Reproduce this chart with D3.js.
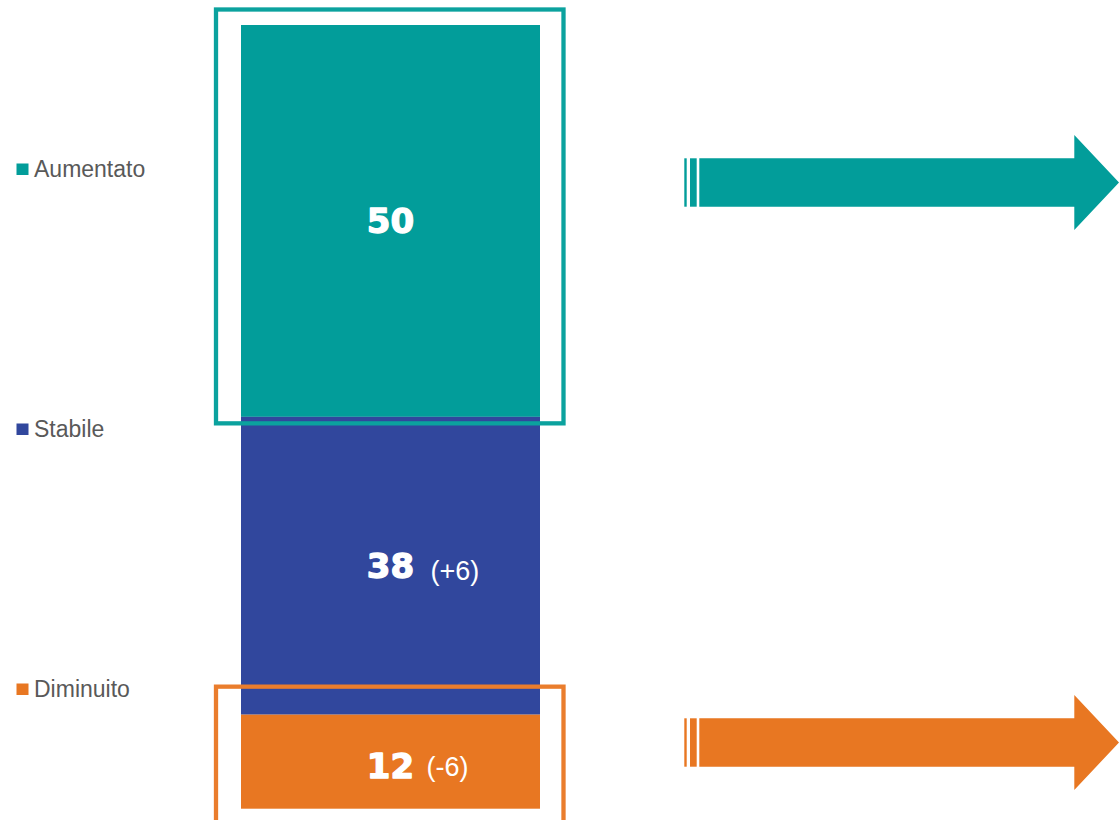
<!DOCTYPE html>
<html>
<head>
<meta charset="utf-8">
<script src="https://cdn.jsdelivr.net/npm/d3@7/dist/d3.min.js"></script>
<style>
  html, body { margin: 0; padding: 0; background: #ffffff; }
  svg { display: block; }
</style>
</head>
<body>
<svg id="chart" width="1119" height="820"></svg>
<script>
// ---- data ----
const categories = ["Aumentato", "Stabile", "Diminuito"];
const values = [50, 38, 12];
const deltas = ["", "(+6)", "(-6)"];
const colors = ["#029D9A", "#31479D", "#E87722"];
const highlighted = ["Aumentato", "Diminuito"];

// ---- layout ----
const W = 1119, H = 820;
const svg = d3.select("#chart");

const total = d3.sum(values);
const y = d3.scaleLinear().domain([0, total]).range([808.7, 25]);
const x = d3.scaleBand().domain(["bar"]).range([241, 540]).padding(0);

// stack from bottom: Diminuito at bottom, then Stabile, then Aumentato
const order = categories.map((c, i) => i).reverse();
let acc = 0;
const segs = [];
order.forEach(i => {
  segs[i] = { cat: categories[i], v: values[i], y0: acc, y1: acc + values[i], delta: deltas[i], color: colors[i] };
  acc += values[i];
});

// bars
svg.append("g").selectAll("rect")
  .data(segs)
  .join("rect")
  .attr("x", x("bar"))
  .attr("width", x.bandwidth())
  .attr("y", d => y(d.y1))
  .attr("height", d => y(d.y0) - y(d.y1))
  .attr("fill", d => d.color);

// value labels
const cx = x("bar") + x.bandwidth() / 2;
const lbl = svg.append("g");
segs.forEach(d => {
  const mid = (y(d.y0) + y(d.y1)) / 2;
  lbl.append("text")
    .attr("x", cx)
    .attr("y", d.cat === "Diminuito" ? mid + 16.5 : mid + 12.5)
    .attr("text-anchor", "middle")
    .attr("font-family", "'DejaVu Sans', sans-serif")
    .attr("font-weight", "bold")
    .attr("font-size", 34)
    .attr("fill", "#ffffff")
    .attr("stroke", "#ffffff")
    .attr("stroke-width", 1.3)
    .attr("stroke-linejoin", "round")
    .text(d.v);
  if (d.delta) {
    lbl.append("text")
      .attr("x", d.cat === "Stabile" ? 430.5 : 426.5)
      .attr("y", mid + 14.5)
      .attr("font-family", "'Liberation Sans', Arial, sans-serif")
      .attr("font-size", 27)
      .attr("fill", "#ffffff")
      .text(d.delta);
  }
});

// highlight outlines
const outline = svg.append("g").attr("fill", "none").attr("stroke-width", 4.3);
segs.filter(d => highlighted.includes(d.cat)).forEach(d => {
  const top = d.cat === "Aumentato" ? y(d.y1) - 15.5 : y(d.y1) - 28;
  const bottom = d.cat === "Aumentato" ? y(d.y0) + 6.5 : H + 20;
  outline.append("rect")
    .attr("x", x("bar") - 25)
    .attr("y", top)
    .attr("width", x.bandwidth() + 48.5)
    .attr("height", bottom - top)
    .attr("stroke", d.cat === "Aumentato" ? "#0BA29E" : "#EA7D2D");
});

// legend
const legendY = [169, 429, 689];
const lg = svg.append("g");
categories.forEach((c, i) => {
  lg.append("rect")
    .attr("x", 16.5).attr("y", legendY[i] - 5.5)
    .attr("width", 12).attr("height", 11.5)
    .attr("fill", colors[i]);
  lg.append("text")
    .attr("x", 34).attr("y", legendY[i] + 7.5)
    .attr("font-family", "'Liberation Sans', Arial, sans-serif")
    .attr("font-size", 23)
    .attr("fill", "#595959")
    .text(c);
});

// arrows
const arrowCenters = { "Aumentato": 182.5, "Diminuito": 742.5 };
const ag = svg.append("g");
segs.filter(d => highlighted.includes(d.cat)).forEach(d => {
  const c = arrowCenters[d.cat];
  const sh = 24.2, hh = 47.5;
  const x0 = 699.3, xh = 1074.3, xt = 1119;
  ag.append("path")
    .attr("d", `M${x0},${c - sh} L${xh},${c - sh} L${xh},${c - hh} L${xt},${c} L${xh},${c + hh} L${xh},${c + sh} L${x0},${c + sh} Z`)
    .attr("fill", d.color);
  ag.append("rect").attr("x", 684.3).attr("y", c - sh).attr("width", 2.4).attr("height", 2 * sh).attr("fill", d.color);
  ag.append("rect").attr("x", 690).attr("y", c - sh).attr("width", 6.7).attr("height", 2 * sh).attr("fill", d.color);
});
</script>
</body>
</html>
